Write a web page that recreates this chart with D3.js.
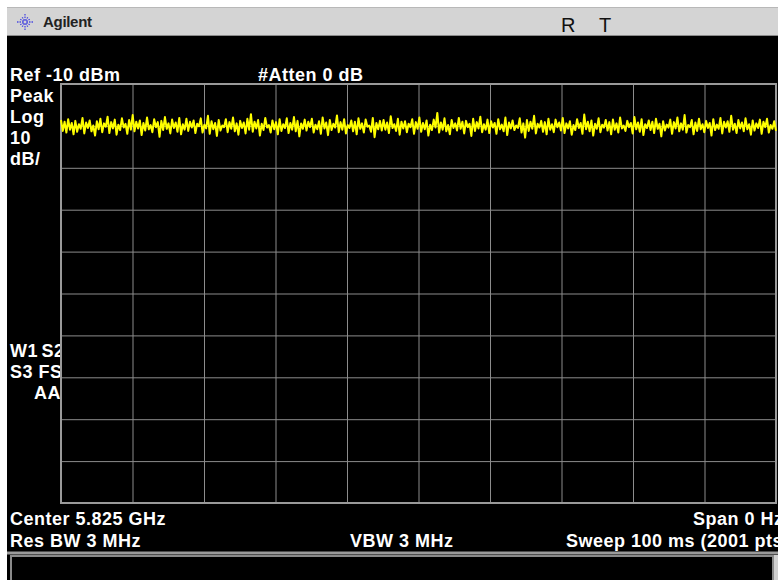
<!DOCTYPE html>
<html>
<head>
<meta charset="utf-8">
<script src="https://cdn.jsdelivr.net/npm/d3@7"></script>
<style>
  body { margin: 0; background: #fff; }
  svg { display: block; }
  text { font-family: "Liberation Sans", Arial, sans-serif; }
</style>
</head>
<body>
<svg id="chart" width="778" height="580"></svg>
<script>
// analyzer settings
const refLevel = -10;      // dBm, top of graticule
const dbPerDiv = 10;
const divisions = 10;
const sweepMs = 100;       // zero span, time axis

const leftLabels = ['Peak', 'Log', '10', 'dB/'];
const statusLabels = ['W1 S2', 'S3 FS', 'AA'];
const bottomLeft = ['Center 5.825 GHz', 'Res BW 3 MHz'];
const bottomRight = ['Span 0 Hz', 'Sweep 100 ms (2001 pts)'];

// trace (dBm), evenly spaced across the sweep
const traceDbm = [
  -18.6,-21.2,-19.0,-21.6,-18.4,-20.9,-19.3,-22.0,-18.8,-21.4,-19.6,-20.7,-18.1,-21.8,-19.2,-20.5,-18.7,-21.3,-19.9,-22.3,
  -18.9,-20.8,-18.3,-21.5,-19.4,-20.2,-17.8,-21.7,-19.1,-20.6,-18.5,-22.1,-19.7,-21.0,-18.2,-20.4,-19.5,-21.9,-18.6,-20.9,
  -17.4,-21.3,-19.0,-20.6,-18.7,-22.2,-19.3,-21.1,-18.0,-20.8,-19.8,-21.5,-18.4,-20.3,-19.1,-22.6,-18.8,-21.0,-17.9,-20.7,
  -19.4,-21.8,-18.5,-20.5,-19.2,-21.4,-18.1,-22.0,-19.6,-20.9,-18.3,-21.2,-19.0,-20.4,-18.7,-21.7,-19.5,-20.1,-18.2,-21.6,
  -19.7,-20.6,-17.6,-21.9,-18.9,-20.8,-19.3,-22.4,-18.6,-21.1,-19.9,-20.3,-18.4,-21.5,-19.1,-20.7,-18.0,-21.3,-19.4,-22.1,
  -18.8,-20.5,-19.2,-21.8,-18.3,-20.9,-17.2,-21.4,-19.0,-20.6,-18.6,-22.3,-19.5,-21.0,-18.1,-20.4,-19.8,-21.6,-18.7,-20.8,
  -19.1,-22.0,-18.4,-21.2,-19.6,-20.5,-18.2,-21.7,-19.3,-20.9,-17.9,-21.3,-18.8,-22.5,-19.4,-20.7,-18.5,-21.1,-19.0,-20.3,
  -18.3,-21.6,-19.7,-20.8,-18.9,-21.9,-18.0,-20.6,-19.2,-22.2,-18.6,-21.0,-19.5,-20.4,-17.5,-21.5,-19.1,-20.9,-18.4,-21.8,
  -19.8,-20.5,-18.7,-21.3,-19.0,-22.0,-18.2,-20.7,-19.4,-21.6,-18.5,-20.2,-19.9,-21.4,-18.1,-22.7,-19.3,-20.8,-18.8,-21.1,
  -18.6,-20.9,-19.2,-21.7,-17.7,-20.5,-19.6,-21.2,-18.3,-22.1,-19.0,-20.6,-18.9,-21.5,-19.5,-20.3,-18.4,-21.9,-19.1,-20.7,
  -18.0,-21.4,-19.3,-20.8,-18.7,-22.3,-19.7,-21.0,-18.5,-20.4,-16.9,-21.6,-19.2,-20.9,-18.2,-21.3,-19.8,-22.0,-18.6,-20.5,
  -19.4,-21.1,-18.1,-20.7,-19.0,-21.8,-18.8,-20.3,-19.5,-22.4,-18.3,-21.2,-19.1,-20.6,-17.8,-21.5,-19.6,-20.9,-18.5,-21.7,
  -18.9,-20.4,-19.3,-21.9,-18.4,-20.8,-19.7,-21.3,-18.0,-22.2,-19.2,-20.6,-18.7,-21.0,-19.9,-20.5,-18.2,-21.6,-19.4,-22.8,
  -18.6,-21.2,-19.0,-20.7,-17.6,-21.8,-19.5,-20.4,-18.8,-21.4,-19.1,-22.0,-18.3,-20.9,-19.6,-21.5,-18.5,-20.3,-19.2,-21.1,
  -18.1,-21.7,-19.4,-20.6,-18.9,-22.1,-19.8,-21.0,-18.4,-20.5,-19.3,-21.9,-17.3,-20.8,-19.0,-21.3,-18.7,-22.3,-19.5,-20.7,
  -18.2,-21.5,-19.7,-20.4,-18.6,-21.1,-19.1,-22.0,-18.5,-20.9,-19.4,-21.6,-18.0,-20.6,-19.9,-21.2,-18.8,-20.3,-19.3,-21.8,
  -17.9,-20.8,-19.2,-21.4,-18.4,-22.2,-19.6,-20.5,-18.7,-21.0,-19.0,-21.7,-18.3,-20.7,-19.5,-22.5,-18.9,-21.1,-19.7,-20.4,
  -18.5,-21.9,-19.1,-20.6,-18.0,-21.3,-19.4,-20.9,-17.4,-21.6,-19.8,-20.3,-18.6,-22.0,-19.2,-21.2,-18.3,-20.8,-19.6,-21.5,
  -18.8,-20.5,-19.3,-22.3,-18.4,-21.0,-19.7,-20.7,-18.1,-21.8,-19.0,-20.4,-18.9,-21.4,-17.6,-20.9,-19.5,-21.7,-18.6,-20.6,
  -19.2,-21.3,-18.2,-20.8,-19.6,-22.1,-18.7,-21.1,-19.4,-20.5,-18.5,-21.9,-19.0,-20.3,-18.3,-21.6,-19.8,-20.7,-18.9,-21.2
];

const svg = d3.select('#chart');
const W = 778, H = 580;
const grid = { left: 61, right: 776, top: 84, bottom: 503 };

// screen background: white border on top / left, black display
svg.append('rect').attr('width', W).attr('height', H).attr('fill', '#fff');
svg.append('rect').attr('x', 7).attr('y', 7).attr('width', W - 7).attr('height', H - 7).attr('fill', '#000');

// title bar
svg.append('rect').attr('x', 7).attr('y', 7).attr('width', W - 7).attr('height', 29).attr('fill', '#d4d4d4');
svg.append('line').attr('x1', 7).attr('x2', W).attr('y1', 7.5).attr('y2', 7.5).attr('stroke', '#b8b8b8');
svg.append('line').attr('x1', 7).attr('x2', W).attr('y1', 35.5).attr('y2', 35.5).attr('stroke', '#8a8a8a');

// agilent spark logo
const logo = svg.append('g').attr('transform', 'translate(25,22)').attr('stroke', '#4a4ae0').attr('stroke-width', 1.3)
  .attr('stroke-dasharray', '1.5 1');
d3.range(12).forEach(i => {
  const a = i * Math.PI / 6;
  const r1 = 1.5, r2 = i % 3 === 0 ? 8 : 6;
  logo.append('line')
    .attr('x1', r1 * Math.cos(a)).attr('y1', r1 * Math.sin(a))
    .attr('x2', r2 * Math.cos(a)).attr('y2', r2 * Math.sin(a));
});
svg.append('text').attr('x', 43).attr('y', 27).attr('font-size', 15).attr('font-weight', 'bold')
  .attr('fill', '#222').attr('textLength', 49).text('Agilent');
svg.append('text').attr('x', 561).attr('y', 32).attr('font-size', 20).attr('fill', '#111').text('R');
svg.append('text').attr('x', 599).attr('y', 32).attr('font-size', 20).attr('fill', '#111').text('T');

// scales
const x = d3.scaleLinear().domain([0, sweepMs]).range([grid.left, grid.right]);
const y = d3.scaleLinear().domain([refLevel - dbPerDiv * divisions, refLevel]).range([grid.bottom, grid.top]);

const label = (tx, ty, s, anchor) => svg.append('text')
  .attr('x', tx).attr('y', ty).attr('font-size', 18).attr('font-weight', 'bold')
  .attr('letter-spacing', 0.5).attr('fill', '#fff').attr('text-anchor', anchor || 'start').text(s);

label(10, 81, 'Ref -10 dBm');
label(258, 81, '#Atten 0 dB');
leftLabels.forEach((s, i) => label(10, 102 + i * 21, s));
statusLabels.forEach((s, i) => {
  const t = label(i === 2 ? 61 : 10, 357 + i * 21, s, i === 2 ? 'end' : 'start');
  if (i === 0) t.attr('word-spacing', -2);
});

// graticule (covers any label overflow)
svg.append('rect').attr('x', grid.left).attr('y', grid.top)
  .attr('width', grid.right - grid.left).attr('height', grid.bottom - grid.top).attr('fill', '#000');

const gx = svg.append('g').attr('transform', `translate(0,${grid.bottom})`)
  .call(d3.axisBottom(x).tickValues(d3.range(1, divisions).map(i => i * sweepMs / divisions))
    .tickSize(-(grid.bottom - grid.top)).tickFormat(''));
const gy = svg.append('g').attr('transform', `translate(${grid.left},0)`)
  .call(d3.axisLeft(y).tickValues(d3.range(1, divisions).map(i => refLevel - i * dbPerDiv))
    .tickSize(-(grid.right - grid.left)).tickFormat(''));
[gx, gy].forEach(g => {
  g.select('.domain').remove();
  g.selectAll('.tick line').attr('stroke', '#8c8c8c').attr('stroke-width', 1);
});
svg.append('rect').attr('x', grid.left).attr('y', grid.top)
  .attr('width', grid.right - grid.left).attr('height', grid.bottom - grid.top)
  .attr('fill', 'none').attr('stroke', '#9a9a9a').attr('stroke-width', 2);

// trace
const step = sweepMs / (traceDbm.length - 1);
svg.append('path').datum(traceDbm)
  .attr('fill', 'none').attr('stroke', '#ffff00').attr('stroke-width', 2).attr('stroke-linejoin', 'round')
  .attr('d', d3.line().x((d, i) => x(i * step)).y(d => y(d)));

// bottom annotations (the instrument screen cuts the right-hand ones off)
label(10, 525, bottomLeft[0]);
label(10, 547, bottomLeft[1]);
label(350, 547, 'VBW 3 MHz');
label(693, 525, bottomRight[0]);
label(566, 547, bottomRight[1]);

// message box at the bottom
svg.append('line').attr('x1', 7).attr('x2', W).attr('y1', 553).attr('y2', 553).attr('stroke', '#9a9a9a').attr('stroke-width', 3);
svg.append('rect').attr('x', 11).attr('y', 556).attr('width', 762).attr('height', 30)
  .attr('fill', '#000').attr('stroke', '#8a8a8a').attr('stroke-width', 2);
svg.append('rect').attr('x', 774).attr('y', 555).attr('width', 4).attr('height', 25).attr('fill', '#d0d0d0');
</script>
</body>
</html>
